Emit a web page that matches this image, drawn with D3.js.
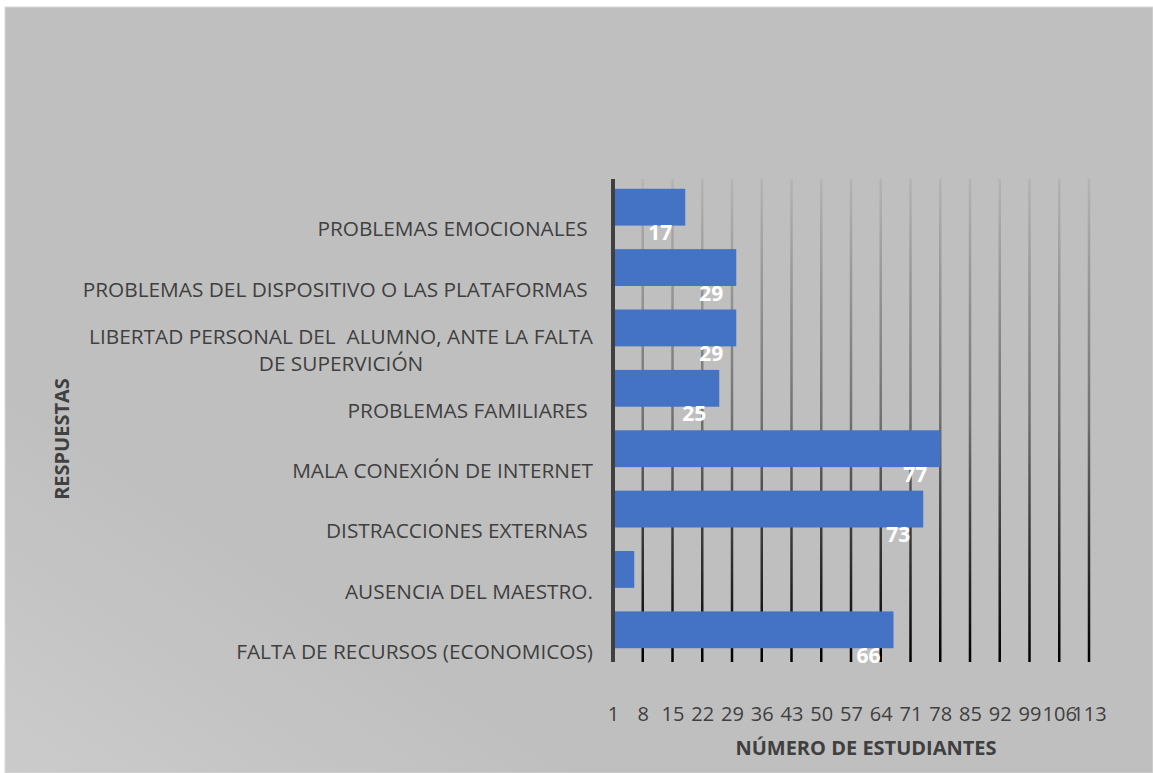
<!DOCTYPE html>
<html>
<head>
<meta charset="utf-8" />
<title>Respuestas</title>
<style>
  body { margin: 0; background: #fff; }
  svg text { font-family: "Open Sans", "DejaVu Sans", sans-serif; }
</style>
</head>
<body>
<svg width="1153" height="773"></svg>

<script src="https://cdn.jsdelivr.net/npm/d3@7"></script>
<script>
// categorias de arriba hacia abajo
var categorias = [
    ['PROBLEMAS EMOCIONALES '],
    ['PROBLEMAS DEL DISPOSITIVO O LAS PLATAFORMAS '],
    ['LIBERTAD PERSONAL DEL  ALUMNO, ANTE LA FALTA', 'DE SUPERVICIÓN'],
    ['PROBLEMAS FAMILIARES '],
    ['MALA CONEXIÓN DE INTERNET'],
    ['DISTRACCIONES EXTERNAS '],
    ['AUSENCIA DEL MAESTRO.'],
    ['FALTA DE RECURSOS (ECONOMICOS)']
];
var valores = [17, 29, 29, 25, 77, 73, 5, 66];
var etiquetas = ['17', '29', '29', '25', '77', '73', '', '66'];
var marcas = d3.range(0, 113, 7);
var textoMarcas = ['1', '8', '15', '22', '29', '36', '43', '50', '57', '64', '71', '78', '85', '92', '99', '106', '113'];

var svg = d3.select('svg');
var defs = svg.append('defs');

var fondo = defs.append('linearGradient')
    .attr('id', 'fondo')
    .attr('x1', 0).attr('y1', 1).attr('x2', 0.25).attr('y2', 0.75);
fondo.append('stop').attr('offset', 0).attr('stop-color', '#cbcbcb');
fondo.append('stop').attr('offset', 1).attr('stop-color', '#bfbfbf');

var arriba = 179, abajo = 662, izq = 613, der = 1089;

var rejilla = defs.append('linearGradient')
    .attr('id', 'rejilla')
    .attr('gradientUnits', 'userSpaceOnUse')
    .attr('x1', 0).attr('y1', arriba).attr('x2', 0).attr('y2', abajo);
rejilla.append('stop').attr('offset', 0).attr('stop-color', '#b4b4b4');
rejilla.append('stop').attr('offset', 0.5).attr('stop-color', '#707070');
rejilla.append('stop').attr('offset', 1).attr('stop-color', '#000000');

svg.append('rect')
    .attr('x', 5).attr('y', 7)
    .attr('width', 1148).attr('height', 766)
    .attr('fill', 'url(#fondo)')
    .attr('stroke', '#d9d9d9')
    .attr('stroke-width', 1);

var x = d3.scaleLinear()
    .domain([0, 112])
    .range([izq, der]);

var y = d3.scaleBand()
    .domain(d3.range(categorias.length))
    .range([arriba, abajo])
    .paddingInner(0.39)
    .paddingOuter(0.195);

// lineas de la rejilla
svg.append('g')
    .selectAll('line')
    .data(marcas.slice(1))
    .enter()
    .append('line')
    .attr('x1', function (d) { return x(d); })
    .attr('x2', function (d) { return x(d); })
    .attr('y1', arriba)
    .attr('y2', abajo)
    .attr('stroke', 'url(#rejilla)')
    .attr('stroke-width', 2.5);

// eje x (solo las etiquetas)
var ejeX = svg.append('g')
    .attr('transform', 'translate(0,' + (abajo + 42) + ')')
    .call(d3.axisBottom(x)
        .tickValues(marcas)
        .tickSize(0)
        .tickFormat(function (d, i) { return textoMarcas[i]; }));
ejeX.select('.domain').remove();
ejeX.selectAll('text')
    .attr('fill', '#404040')
    .style('font-size', '20px')
    .style('font-family', '"Open Sans", sans-serif');

// barras
svg.append('g')
    .selectAll('rect')
    .data(valores)
    .enter()
    .append('rect')
    .attr('x', x(0) + 2)
    .attr('y', function (d, i) { return y(i) - 2; })
    .attr('width', function (d) { return x(d) - x(0) - 2; })
    .attr('height', y.bandwidth())
    .attr('fill', '#4472c4');

// eje vertical
svg.append('line')
    .attr('x1', x(0)).attr('x2', x(0))
    .attr('y1', arriba).attr('y2', abajo)
    .attr('stroke', '#404040')
    .attr('stroke-width', 4);

// etiquetas de datos
svg.append('g')
    .selectAll('text')
    .data(valores)
    .enter()
    .append('text')
    .attr('x', function (d) { return x(d) - 13; })
    .attr('y', function (d, i) { return y(i) + y.bandwidth() / 2 + 31; })
    .attr('text-anchor', 'end')
    .attr('fill', '#ffffff')
    .style('font-size', '21px')
    .style('font-weight', 'bold')
    .text(function (d, i) { return etiquetas[i]; });

// etiquetas de categorias
var cats = svg.append('g')
    .selectAll('g')
    .data(categorias)
    .enter()
    .append('g');

cats.each(function (lineas, i) {
    var g = d3.select(this);
    var cy = y(i) + y.bandwidth() / 2 + 20;
    var alto = 27;
    var y0 = cy - (lineas.length - 1) * alto / 2;
    var primera = g.append('text')
        .attr('x', 593)
        .attr('y', y0)
        .attr('dy', '0.35em')
        .attr('text-anchor', 'end')
        .attr('fill', '#404040')
        .style('font-size', '20.8px')
        .style('white-space', 'pre')
        .text(lineas[0]);
    if (lineas.length > 1) {
        var ancho = primera.node().getComputedTextLength();
        g.append('text')
            .attr('x', 593 - ancho / 2)
            .attr('y', y0 + alto)
            .attr('dy', '0.35em')
            .attr('text-anchor', 'middle')
            .attr('fill', '#404040')
            .style('font-size', '20.8px')
            .text(lineas[1]);
    }
});

// titulos de los ejes
svg.append('text')
    .attr('x', 866)
    .attr('y', 748)
    .attr('dy', '0.35em')
    .attr('text-anchor', 'middle')
    .attr('fill', '#404040')
    .style('font-size', '20px')
    .style('font-weight', 'bold')
    .text('NÚMERO DE ESTUDIANTES');

svg.append('text')
    .attr('transform', 'translate(62,439) rotate(-90)')
    .attr('dy', '0.35em')
    .attr('text-anchor', 'middle')
    .attr('fill', '#404040')
    .style('font-size', '20px')
    .style('font-weight', 'bold')
    .text('RESPUESTAS');
</script>
</body>
</html>
